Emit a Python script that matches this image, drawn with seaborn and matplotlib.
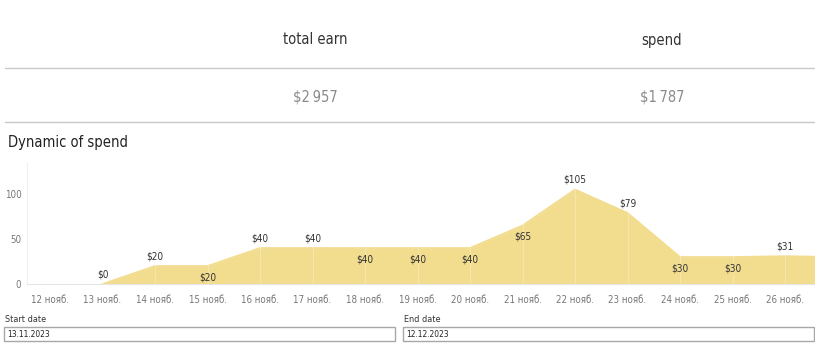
import numpy as np
import pandas as pd
import matplotlib.pyplot as plt
import seaborn as sns
from matplotlib.patches import Rectangle
from matplotlib import font_manager

# data
days = ['12 нояб.', '13 нояб.', '14 нояб.', '15 нояб.', '16 нояб.', '17 нояб.', '18 нояб.',
        '19 нояб.', '20 нояб.', '21 нояб.', '22 нояб.', '23 нояб.', '24 нояб.', '25 нояб.',
        '26 нояб.', '27 нояб.']
spend = [np.nan, 0, 20, 20, 40, 40, 40, 40, 40, 65, 105, 79, 30, 30, 31, 30]
# label placement (1 = above the line, -1 = below), last point not labelled
label_side = [0, 1, 1, -1, 1, 1, -1, -1, -1, -1, 1, 1, -1, -1, 1, 0]
kpi_names = ['total earn', 'spend']
kpi_values = ['$2\u2009957', '$1\u2009787']
start_date = '13.11.2023'
end_date = '12.12.2023'

df = pd.DataFrame({'idx': np.arange(len(days)), 'day': days, 'spend': spend})

sns.set_style('white')
names = {f.name for f in font_manager.fontManager.ttflist}
fam = 'DejaVu Sans Condensed' if 'DejaVu Sans Condensed' in names else 'DejaVu Sans'
plt.rcParams['font.family'] = [fam, 'DejaVu Sans']
plt.rcParams['font.stretch'] = 'condensed'

W, H = 815, 361
fig = plt.figure(figsize=(W / 100, H / 100), dpi=100)

def fx(px):
    return px / W

def fy(py):
    return 1 - py / H

# KPI header
for name, val, x in zip(kpi_names, kpi_values, [315, 662]):
    fig.text(fx(x), fy(40), name, ha='center', va='center', fontsize=10.5, color='#333333')
    fig.text(fx(x), fy(97), val, ha='center', va='center', fontsize=10.5, color='#8a8a8a')
for y in [68, 122]:
    fig.add_artist(plt.Line2D([fx(5), 1], [fy(y), fy(y)], color='#c8c8c8', lw=1))
fig.text(fx(8), fy(142), 'Dynamic of spend', ha='left', va='center', fontsize=10.5, color='#222222')

# area chart
ax_left, ax_right, ax_top, ax_bottom = 27, 815, 162.5, 284
ax = fig.add_axes([fx(ax_left), fy(ax_bottom), fx(ax_right - ax_left), (ax_bottom - ax_top) / H])
color = '#f2dc8e'
valid = df.dropna()
ax.fill_between(valid['idx'], 0, valid['spend'], color=color, lw=0, zorder=1)
sns.lineplot(data=valid, x='idx', y='spend', ax=ax, color=color, lw=1.2, zorder=2)
xlim = (-23 / 52.5, (815 - 50) / 52.5)
for i in df['idx']:
    if i < xlim[1]:
        ax.axvline(i, color='white', alpha=0.3, lw=0.8, zorder=3)
ax.set_xticks(df['idx'])
ax.set_xticklabels(days, fontsize=7, color='#777777')
ax.set_yticks([0, 50, 100])
ax.set_yticklabels(['0', '50', '100'], fontsize=7, color='#777777')
ax.tick_params(axis='x', length=3, color='#e0e0e0', pad=5)
ax.tick_params(axis='y', length=0, pad=4)
ax.set_xlabel('')
ax.set_ylabel('')
for s in ['top', 'right']:
    ax.spines[s].set_visible(False)
ax.spines['left'].set_color('#f0f0f0')
ax.spines['bottom'].set_color('#e6e6e6')
ax.spines['left'].set_linewidth(0.8)
ax.spines['bottom'].set_linewidth(0.8)

for i, v, side in zip(df['idx'], df['spend'], label_side):
    if side == 0 or np.isnan(v):
        continue
    off = 7 if side > 0 else -8
    ax.annotate(f'${int(v)}', (i, v), xytext=(0, off), textcoords='offset points',
                ha='center', va='center', fontsize=7.2, color='#333333', zorder=4)
ax.set_xlim(*xlim)
ax.set_ylim(0, 135)

# date inputs
for lbl, val, x0, x1 in [('Start date', start_date, 4, 396), ('End date', end_date, 403, 815)]:
    fig.text(fx(x0 + 1), fy(320), lbl, ha='left', va='center', fontsize=6.5, color='#333333')
    fig.add_artist(Rectangle((fx(x0), fy(341)), fx(x1 - x0 - 1), (341 - 327) / H,
                             transform=fig.transFigure, fill=False, ec='#a8a8a8', lw=1))
    fig.text(fx(x0 + 3), fy(334.5), val, ha='left', va='center', fontsize=6, color='#222222')

fig.savefig('out.png', dpi=100)
